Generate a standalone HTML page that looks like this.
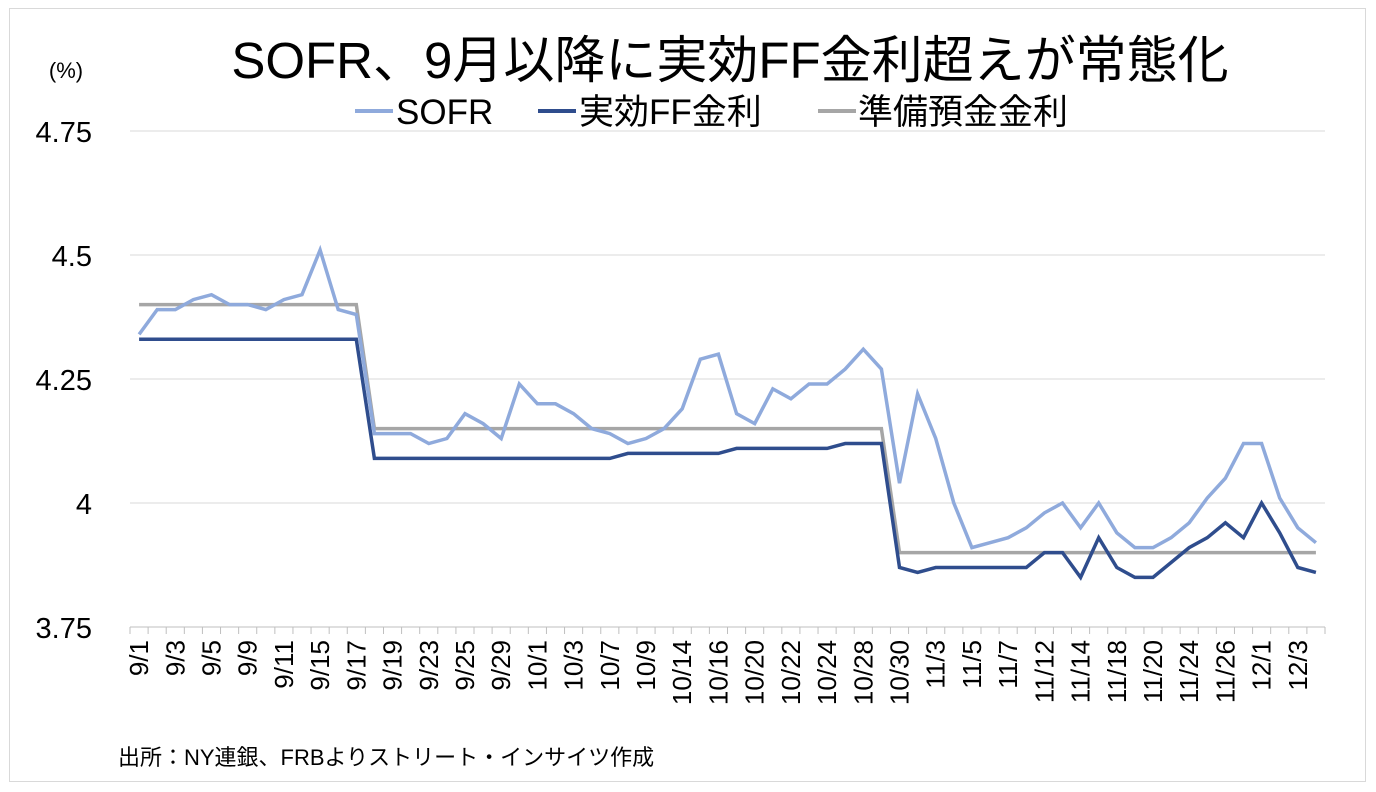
<!DOCTYPE html>
<html><head><meta charset="utf-8"><style>
body{margin:0;background:#fff;}
svg{display:block;font-family:"Liberation Sans","Noto Sans CJK JP",sans-serif;}
</style></head><body>
<svg width="1376" height="792" xmlns="http://www.w3.org/2000/svg">
<rect x="0" y="0" width="1376" height="792" fill="#fff"/>
<rect x="9.5" y="8.5" width="1356" height="773" fill="none" stroke="#d9d9d9"/>
<text x="730" y="78" font-size="51" text-anchor="middle" fill="#000">SOFR、9月以降に実効FF金利超えが常態化</text>
<text x="66" y="78" font-size="22" text-anchor="middle" fill="#000">(%)</text>
<g font-size="35" fill="#000">
<line x1="355" y1="111" x2="393" y2="111" stroke="#8faadc" stroke-width="4"/><text x="396" y="124">SOFR</text>
<line x1="538" y1="111" x2="576" y2="111" stroke="#2f4d8d" stroke-width="4"/><text x="579" y="124">実効FF金利</text>
<line x1="818" y1="111" x2="856" y2="111" stroke="#a6a6a6" stroke-width="4"/><text x="858" y="124">準備預金金利</text>
</g>
<g stroke="#d9d9d9" stroke-width="1">
<line x1="130" y1="131" x2="1325" y2="131"/><line x1="130" y1="255" x2="1325" y2="255"/>
<line x1="130" y1="379" x2="1325" y2="379"/><line x1="130" y1="503" x2="1325" y2="503"/>
</g>
<line x1="130" y1="627" x2="1325" y2="627" stroke="#bfbfbf"/>
<g font-size="29" text-anchor="end" fill="#000">
<text x="92" y="142">4.75</text><text x="92" y="266">4.5</text><text x="92" y="390">4.25</text><text x="92" y="514">4</text><text x="92" y="638">3.75</text>
</g>
<g id="ticks" stroke="#bfbfbf"></g>
<g id="xl" font-size="26" fill="#000"></g>
<polyline id="iorb" fill="none" stroke="#a6a6a6" stroke-width="3.5"/>
<polyline id="effr" fill="none" stroke="#2f4d8d" stroke-width="3.5"/>
<polyline id="sofr" fill="none" stroke="#8faadc" stroke-width="3.5"/>
<text x="118" y="765" font-size="22" fill="#000">出所：NY連銀、FRBよりストリート・インサイツ作成</text>
</svg>
<script>
var S=[4.34,4.39,4.39,4.41,4.42,4.40,4.40,4.39,4.41,4.42,4.51,4.39,4.38,4.14,4.14,4.14,4.12,4.13,4.18,4.16,4.13,4.24,4.20,4.20,4.18,4.15,4.14,4.12,4.13,4.15,4.19,4.29,4.30,4.18,4.16,4.23,4.21,4.24,4.24,4.27,4.31,4.27,4.04,4.22,4.13,4.00,3.91,3.92,3.93,3.95,3.98,4.00,3.95,4.00,3.94,3.91,3.91,3.93,3.96,4.01,4.05,4.12,4.12,4.01,3.95,3.92];
var E=[],I=[];
for(var i=0;i<66;i++){var e;if(i<13)e=4.33;else if(i<27)e=4.09;else if(i<33)e=4.10;else if(i<39)e=4.11;else if(i<42)e=4.12;else e=3.87;E.push(e);I.push(i<13?4.40:(i<42?4.15:3.90));}
var tail={42:3.87,43:3.86,50:3.90,51:3.90,52:3.85,53:3.93,54:3.87,55:3.85,56:3.85,57:3.88,58:3.91,59:3.93,60:3.96,61:3.93,62:4.00,63:3.94,64:3.87,65:3.86};
for(var k in tail)E[k]=tail[k];
var W=(1325-130)/66;
function X(i){return 130+W*(i+0.5);}function Y(v){return 503-(v-4)*496;}
function pts(a){return a.map(function(v,i){return X(i).toFixed(1)+","+Y(v).toFixed(1)}).join(" ");}
document.getElementById("sofr").setAttribute("points",pts(S));
document.getElementById("effr").setAttribute("points",pts(E));
document.getElementById("iorb").setAttribute("points",pts(I));
var L=["9/1","9/3","9/5","9/9","9/11","9/15","9/17","9/19","9/23","9/25","9/29","10/1","10/3","10/7","10/9","10/14","10/16","10/20","10/22","10/24","10/28","10/30","11/3","11/5","11/7","11/12","11/14","11/18","11/20","11/24","11/26","12/1","12/3"];
var ns="http://www.w3.org/2000/svg",g=document.getElementById("xl"),t=document.getElementById("ticks");
for(var i=0;i<=66;i++){var l=document.createElementNS(ns,"line");var x=130+W*i;l.setAttribute("x1",x);l.setAttribute("x2",x);l.setAttribute("y1",627);l.setAttribute("y2",634);t.appendChild(l);}
L.forEach(function(s,j){var x=X(j*2)+9;var e=document.createElementNS(ns,"text");e.setAttribute("transform","translate("+x+",640) rotate(-90)");e.setAttribute("text-anchor","end");e.textContent=s;g.appendChild(e);});
</script>
</body></html>
